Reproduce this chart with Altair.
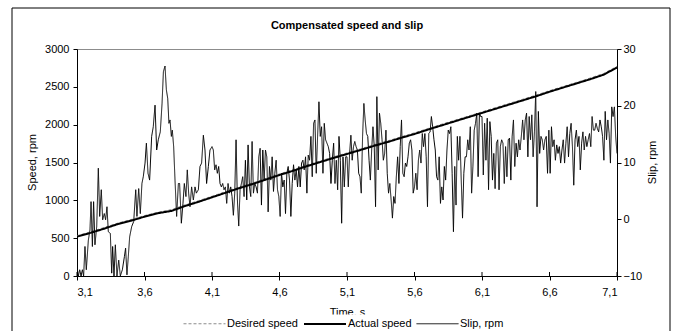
import altair as alt
import numpy as np
import pandas as pd

# ---------------- data ----------------
speed_time = [3.1, 3.2, 3.3, 3.4, 3.5, 3.6, 3.7, 3.8, 3.9, 4.0,
              4.1, 4.2, 4.3, 4.4, 4.5, 4.6, 4.7, 4.8, 4.9, 5.0,
              5.1, 5.2, 5.3, 5.4, 5.5, 5.6, 5.7, 5.8, 5.9, 6.0,
              6.1, 6.2, 6.3, 6.4, 6.5, 6.6, 6.7, 6.8, 6.9, 7.0, 7.1]
actual_speed = [520, 570, 625, 685, 730, 784, 830, 860, 925, 980,
                1040, 1100, 1160, 1215, 1275, 1335, 1390, 1450, 1505, 1560,
                1612, 1665, 1720, 1770, 1825, 1877, 1935, 1990, 2045, 2100,
                2155, 2210, 2265, 2320, 2375, 2435, 2490, 2545, 2600, 2660, 2755]
desired_speed = [532, 584, 640, 698, 746, 798, 843, 878, 940, 995,
                 1054, 1114, 1174, 1229, 1290, 1349, 1404, 1464, 1519, 1575,
                 1626, 1680, 1734, 1785, 1839, 1892, 1949, 2005, 2059, 2114,
                 2169, 2225, 2280, 2335, 2390, 2449, 2504, 2559, 2615, 2676, 2770]

# slip, rpm (secondary axis) -- first second read at individual times
slip_t1 = [3.100, 3.110, 3.120, 3.130, 3.140, 3.149, 3.159, 3.169, 3.184, 3.196,
           3.204, 3.214, 3.223, 3.233, 3.246, 3.258, 3.268, 3.280, 3.290, 3.302,
           3.312, 3.322, 3.332, 3.347, 3.357, 3.364, 3.374, 3.384, 3.396, 3.409,
           3.421, 3.436, 3.451, 3.460, 3.470, 3.480, 3.490, 3.505, 3.520, 3.535,
           3.544, 3.557, 3.569, 3.581, 3.591, 3.604, 3.614, 3.626, 3.638, 3.653,
           3.665, 3.678, 3.690, 3.702, 3.717, 3.730, 3.740, 3.752, 3.762, 3.772,
           3.781, 3.789, 3.799, 3.806, 3.816, 3.826, 3.838, 3.851, 3.860, 3.873,
           3.885, 3.895, 3.907, 3.917, 3.927, 3.937, 3.949, 3.962, 3.974, 3.984,
           3.999, 4.011, 4.023, 4.036, 4.048, 4.060, 4.073, 4.085]
slip_v1 = [-8.4, -10, -8.9, -10, -8.9, -10, -4.8, -8.9, -3.7, -1.9,
           3.1, -4.8, 3.1, -4.5, -1.3, 9.0, 0.5, 5.2, -0.1, 1.0,
           -0.1, 2.2, -2.2, -2.5, -9.5, -4.8, -10, -4.5, -10, -7.2,
           -10, -8.9, -6.6, -5.1, -9.8, -6.6, -3.1, -1.3, -0.4, 5.2,
           0.5, 5.4, 1.0, 6.3, 7.5, 9.9, 13.4, 8.1, 6.9, 14.6,
           16.3, 20.1, 12.2, 14.0, 15.4, 20.4, 26.0, 27.0, 22.8, 21.3,
           16.9, 17.5, 14.6, 15.7, 12.8, 6.9, 0.5, 6.3, 6.3, -0.7,
           2.8, 6.3, 4.0, 8.7, 4.6, 2.2, 5.7, 3.4, 5.7, 4.6,
           5.2, 9.3, 9.9, 14.8, 12.2, 6.3, 9.3, 12.2]
# following seconds read at (roughly) regular sample steps
slip_v2 = [12.8, 12.2, 8.7, 9.6, 8.1, 9.3, 6.3, 5.7, 6.3, 5.2, 5.7, 2.8, 6.3, 4.6, 5.7,
           4.0, 0.7, 4.6, 14.0, 3.4, -1.2, 5.2, 6.3, 7.5, 4.0, 10.4, 3.4, 13.1, 5.7, 4.0,
           13.7, 4.6, 6.3, 5.7, 4.6, 11.0, 12.5, 2.5, 12.2, 6.9, 12.2, 11.0, 1.3, 9.3, 6.9,
           11.0, 4.9, 8.1, 10.4, 5.2, 4.0, 0.5, 8.1, 5.7, 6.9, 1.0, 8.1, 9.3, 6.9, 0.5,
           6.3, 9.6, 6.9, 8.7, 5.7, 9.3, 5.7, 9.9, 10.4, 8.7, 11.0, 4.6, 11.3, 10.4, 14.6,
           7.5, 16.9, 17.5, 8.1, 14.6, 20.7, 14.6, 16.3, 8.1, 16.9, 14.0, 13.4, 12.8, 11.6,
           6.3, 10.4, 13.4, 6.3, 10.4, 5.2, 14.6, 10.4, -0.7, 11.0, 5.7, 11.0]
slip_v3 = [11.0, 5.7, 11.6, 14.8, 10.4, 12.8, 13.7, 12.8, 12.2, 8.1, 7.5, 4.6, 14.6, 20.4,
           17.5, 15.1, 14.6, 10.4, 6.9, 12.2, 16.3, 12.8, 2.2, 21.6, 8.7, 18.7, 16.9, 14.0,
           10.4, 11.6, 15.7, 8.1, 4.6, 6.3, 3.4, 0.2, 4.0, 2.8, 7.5, 11.0, 6.3, 12.8, 17.5,
           8.1, 7.5, 9.9, 9.3, 11.0, 13.4, 14.0, 12.2, 4.6, 5.7, 8.1, 5.2, 10.4, 12.2, 9.9,
           15.1, 12.8, 15.1, 11.0, 2.2, 15.1, 15.4, 18.1, 16.3, 14.0, 12.2, 7.5, 6.9, 11.0,
           2.8, 5.7, 3.4, 9.3, 6.9, 12.2, 15.7, 15.1, 16.3, 8.1, -2.2, 9.3, 2.5, 14.6, 10.4,
           14.6, 6.9, 0.2, 8.1, 11.0, 11.0, 14.0, 12.2, 16.3, 4.6, 9.3, 15.7, 16.9, 18.7,
           7.5, 18.7, 18.1]
slip_v4 = [18.1, 7.8, 16.9, 10.4, 17.8, 5.2, 17.2, 14.6, 6.9, 11.6, 5.4, 13.4, 14.0, 5.2,
           12.8, 14.0, 13.4, 6.3, 12.8, 7.5, 14.0, 14.3, 6.9, 14.6, 17.5, 9.3, 13.4, 11.0,
           14.0, 12.2, 14.6, 17.5, 14.0, 17.5, 18.7, 11.0, 18.1, 14.0, 18.4, 11.0, 15.4,
           22.5, 2.2, 19.0, 11.6, 14.6, 14.0, 12.2, 14.0, 14.6, 8.1, 15.7, 8.1, 16.3, 12.8,
           14.0, 10.4, 13.1, 11.6, 12.8, 9.9, 12.2, 14.0, 9.9, 13.4, 16.3, 11.0, 15.1, 16.9,
           12.8, 6.0, 14.0, 15.7, 12.8, 14.6, 8.7, 13.4, 15.4, 12.2, 14.6, 12.8, 14.0, 15.1,
           12.8, 18.1, 15.7, 15.7, 16.9, 16.0, 15.4, 17.5, 16.3, 14.6, 10.4, 19.0, 14.0,
           17.5, 15.1, 9.9, 19.8, 18.1, 19.8, 14.6, 11.6]

x_ticks = [3.1, 3.6, 4.1, 4.6, 5.1, 5.6, 6.1, 6.6, 7.1]
speed_ticks = [0, 500, 1000, 1500, 2000, 2500, 3000]
slip_ticks = [-10, 0, 10, 20, 30]
chart_title = "Compensated speed and slip"
series_names = ["Desired speed", "Actual speed", "Slip, rpm"]
series_colors = ["#8c8c8c", "#000000", "#000000"]
series_dash = [[3, 2], [1, 0], [1, 0]]
series_width = [1, 2, 1]

# ---------------- tables ----------------
speed_df = pd.concat([
    pd.DataFrame({"time": speed_time, "value": desired_speed, "series": series_names[0]}),
    pd.DataFrame({"time": speed_time, "value": actual_speed, "series": series_names[1]}),
], ignore_index=True)

slip_time = (list(slip_t1)
             + list(np.linspace(4.1, 5.1, len(slip_v2), endpoint=False))
             + list(np.linspace(5.1, 6.1, len(slip_v3), endpoint=False))
             + list(np.linspace(6.1, 7.1, len(slip_v4))))
slip_vals = list(slip_v1) + list(slip_v2) + list(slip_v3) + list(slip_v4)
slip_df = pd.DataFrame({"time": slip_time, "value": slip_vals, "series": series_names[2]})
tick_df = pd.DataFrame({"tick": x_ticks})
title_df = pd.DataFrame({"label": [chart_title]})

FONT = "Liberation Sans"
W, H = 540, 227

x_axis = alt.Axis(values=x_ticks, labelExpr="replace(format(datum.value, '.1f'), '.', ',')",
                  title="Time, s", tickSize=4, labelPadding=6, titlePadding=9,
                  grid=False)
x_scale = alt.Scale(domain=[3.1, 7.1], nice=False, zero=False)

color = alt.Color("series:N", scale=alt.Scale(domain=series_names, range=series_colors),
                  legend=alt.Legend(title=None, orient="none", legendX=106, legendY=253,
                                    direction="horizontal", symbolType="stroke",
                                    symbolSize=1764, labelFontSize=11, labelFont=FONT,
                                    labelColor="black", columnPadding=2, labelOffset=1,
                                    padding=0))
dash = alt.StrokeDash("series:N", scale=alt.Scale(type="ordinal", domain=series_names,
                                                   range=series_dash))
width_enc = alt.StrokeWidth("series:N", scale=alt.Scale(type="ordinal", domain=series_names,
                                                         range=series_width))

speed = alt.Chart(speed_df).mark_line(clip=True).encode(
    x=alt.X("time:Q", scale=x_scale, axis=x_axis),
    y=alt.Y("value:Q", scale=alt.Scale(domain=[0, 3000], nice=False),
            axis=alt.Axis(orient="left", values=speed_ticks, format="d", title="Speed, rpm",
                          tickSize=4, labelPadding=4, grid=False,
                          titleX=-45, titleY=113, titleAngle=270,
                          titleAlign="center", titleBaseline="middle")),
    color=color, strokeDash=dash, strokeWidth=width_enc,
)

slip = alt.Chart(slip_df).mark_line(clip=True).encode(
    x=alt.X("time:Q", scale=x_scale, axis=x_axis),
    y=alt.Y("value:Q", scale=alt.Scale(domain=[-10, 30], nice=False),
            axis=alt.Axis(orient="right", values=slip_ticks, format="d", title="Slip, rpm",
                          tickSize=4, labelPadding=2, grid=False,
                          titleX=35, titleY=113, titleAngle=270,
                          titleAlign="center", titleBaseline="middle")),
    color=color, strokeDash=dash, strokeWidth=width_enc,
)

inner_ticks = alt.Chart(tick_df).mark_rule(color="black", strokeWidth=1).encode(
    x=alt.X("tick:Q", scale=x_scale, axis=x_axis),
    y=alt.value(H - 4), y2=alt.value(H),
)

frame_df = pd.DataFrame({"k": [0]})
frame = alt.Chart(frame_df).mark_rect(filled=False, stroke="black", strokeWidth=1).encode(
    x=alt.value(-65), x2=alt.value(593), y=alt.value(-41), y2=alt.value(300),
)
# white patch over the lower half of the x axis title (legend overlaps it in the original)
patch = alt.Chart(frame_df).mark_rect(fill="white", stroke=None).encode(
    x=alt.value(240), x2=alt.value(300), y=alt.value(265.5), y2=alt.value(280),
)
title_text = alt.Chart(title_df).mark_text(
    font=FONT, fontSize=11, fontWeight="bold", color="black",
    align="center", baseline="middle"
).encode(text="label:N", x=alt.value(W / 2), y=alt.value(-23.5))

chart = alt.layer(frame, speed, slip, inner_ticks, patch, title_text).resolve_scale(
    y="independent"
).properties(
    width=W, height=H,
    autosize=alt.AutoSizeParams(type="none"),
    padding={"left": 77, "top": 49, "right": 59, "bottom": 55},
).configure_view(
    stroke="#8c8c8c", strokeWidth=1
).configure_axis(
    labelFont=FONT, titleFont=FONT, labelFontSize=11, titleFontSize=11,
    titleFontWeight="normal", labelColor="black", titleColor="black",
    domainColor="black", tickColor="black", domainWidth=1, tickWidth=1,
)

chart.save("out.html", embed_options={"renderer": "svg", "actions": False})
